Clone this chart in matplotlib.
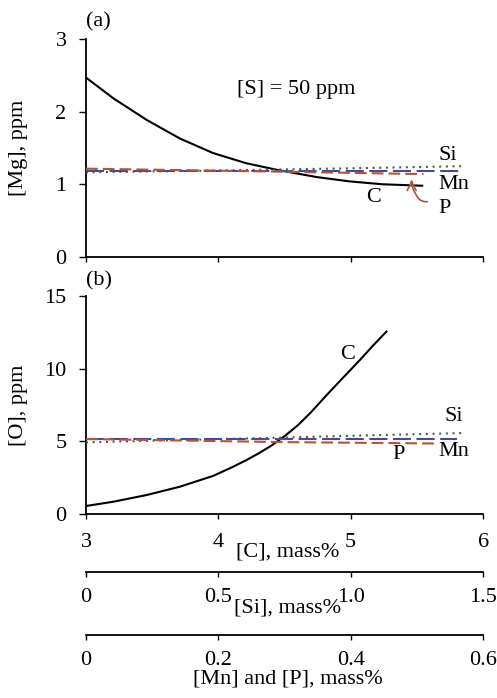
import matplotlib
matplotlib.use('Agg')
import matplotlib.pyplot as plt

plt.rcParams['font.family'] = ['Liberation Serif', 'DejaVu Serif']
plt.rcParams['font.size'] = 16
plt.rcParams['lines.scale_dashes'] = False

# panel (a): [Mg], ppm
c_a = [3.0, 3.21, 3.46, 3.71, 3.96, 4.21, 4.44, 4.74, 4.99, 5.24, 5.54]
mg_c = [2.47, 2.18, 1.885, 1.63, 1.43, 1.29, 1.2, 1.10, 1.04, 1.0, 0.98]
si_a = [0.0, 0.5, 1.0, 1.43]
mg_si = [1.165, 1.19, 1.22, 1.25]
mn_a = [0.0, 0.57]
mg_mn = [1.18, 1.18]
p_a = [0.0, 0.25, 0.51]
mg_p = [1.215, 1.18, 1.14]

# panel (b): [O], ppm
c_b = [3.0, 3.21, 3.46, 3.71, 3.96, 4.1, 4.21, 4.3, 4.4, 4.5, 4.6, 4.7,
       4.82, 4.95, 5.07, 5.17, 5.27]
o_c = [0.55, 0.85, 1.31, 1.88, 2.62, 3.2, 3.7, 4.15, 4.7, 5.35, 6.1, 7.0,
       8.2, 9.45, 10.6, 11.6, 12.55]
si_b = [0.0, 0.5, 0.73, 1.0, 1.43]
o_si = [4.93, 5.15, 5.25, 5.38, 5.57]
mn_b = [0.0, 0.56]
o_mn = [5.16, 5.16]
p_b = [0.0, 0.29, 0.53]
o_p = [5.16, 4.95, 4.85]

c_ticks = [3, 4, 5, 6]
si_ticks = [0, 0.5, 1.0, 1.5]
si_labels = ['0', '0.5', '1.0', '1.5']
mn_ticks = [0, 0.2, 0.4, 0.6]
mn_labels = ['0', '0.2', '0.4', '0.6']

col_si = '#3d5a4c'
col_mn = '#4a4a8c'
col_p = '#b0553c'


def style(ax):
    for s in ['top', 'right']:
        ax.spines[s].set_visible(False)
    for s in ['left', 'bottom']:
        ax.spines[s].set_linewidth(1.3)
    ax.tick_params(axis='y', direction='out', length=5, width=1.0, pad=9)
    ax.tick_params(axis='x', direction='out', length=3.5, width=1.0)
    ax.yaxis.set_label_coords(-0.146, 0.5)


def hidden_twin(ax, lim):
    t = ax.twiny()
    t.set_xlim(*lim)
    t.axis('off')
    return t


fig = plt.figure(figsize=(4.97, 6.98), dpi=100)
ax_a = fig.add_axes([0.173, 0.632, 0.799, 0.312])
ax_b = fig.add_axes([0.173, 0.2636, 0.799, 0.3124])

# ---- (a)
ax_a.set_xlim(3, 6)
ax_a.set_ylim(0, 3)
ax_a.set_xticks(c_ticks)
ax_a.set_xticklabels([])
ax_a.set_yticks([0, 1, 2, 3])
ax_a.set_ylabel('[Mg], ppm')
style(ax_a)
sa = hidden_twin(ax_a, (0, 1.5))
ma = hidden_twin(ax_a, (0, 0.6))
sa.plot(si_a, mg_si, color=col_si, lw=1.5, dashes=(1.4, 3.4))
ma.plot(mn_a, mg_mn, color=col_mn, lw=1.5, dashes=(13, 4))
ma.plot(p_a, mg_p, color=col_p, lw=1.5, dashes=(8.5, 3.6))
ax_a.plot(c_a, mg_c, color='black', lw=1.5)
ax_a.text(0.0, 1.078, '(a)', transform=ax_a.transAxes, ha='left', va='center')
ax_a.text(4.59, 2.3, '[S] = 50 ppm', ha='center', va='center')
ax_a.text(5.66, 1.4, 'Si', ha='left', va='center')
ax_a.text(5.66, 1.0, 'Mn', ha='left', va='center')
ax_a.text(5.17, 0.82, 'C', ha='center', va='center')
ax_a.text(5.71, 0.67, 'P', ha='center', va='center')
ax_a.annotate('', xy=(5.46, 1.1), xytext=(5.6, 0.76),
              arrowprops=dict(arrowstyle='->', color=col_p, lw=1.2,
                              connectionstyle='arc,angleA=180,angleB=-90,armA=10,armB=10,rad=6'))

# ---- (b)
ax_b.set_xlim(3, 6)
ax_b.set_ylim(0, 15)
ax_b.set_xticks(c_ticks)
ax_b.set_xticklabels([])
ax_b.set_yticks([0, 5, 10, 15])
ax_b.set_ylabel('[O], ppm')
style(ax_b)
sb = hidden_twin(ax_b, (0, 1.5))
mb = hidden_twin(ax_b, (0, 0.6))
sb.plot(si_b, o_si, color=col_si, lw=1.5, dashes=(1.4, 3.4))
mb.plot(mn_b, o_mn, color=col_mn, lw=1.5, dashes=(13, 4))
mb.plot(p_b, o_p, color=col_p, lw=1.5, dashes=(8.5, 3.6))
ax_b.plot(c_b, o_c, color='black', lw=1.5)
ax_b.text(0.0, 1.069, '(b)', transform=ax_b.transAxes, ha='left', va='center')
ax_b.text(5.71, 6.74, 'Si', ha='left', va='center')
ax_b.text(5.66, 4.27, 'Mn', ha='left', va='center')
ax_b.text(5.36, 4.06, 'P', ha='center', va='center')
ax_b.text(4.975, 10.98, 'C', ha='center', va='center')

# tick labels and title for [C] below panel (b)
for x in c_ticks:
    ax_b.text(x, -0.13, str(x), transform=ax_b.get_xaxis_transform(),
              ha='center', va='center')
ax_b.text(0.508, -0.175, '[C], mass%', transform=ax_b.transAxes,
          ha='center', va='center')


def extra_axis(ax, pos, lim, ticks, labels, title, tpos):
    t = ax.twiny()
    t.set_xlim(*lim)
    for s in ['top', 'right', 'left']:
        t.spines[s].set_visible(False)
    t.spines['bottom'].set_position(('axes', pos))
    t.spines['bottom'].set_linewidth(1.3)
    t.patch.set_visible(False)
    t.xaxis.set_ticks_position('bottom')
    t.set_xticks(ticks)
    t.set_xticklabels([])
    t.tick_params(axis='x', direction='out', length=3.5, width=1.0)
    for v, lab in zip(ticks, labels):
        t.text(v, pos - 0.115, lab, transform=t.get_xaxis_transform(),
               ha='center', va='center')
    t.text(0.508, pos + tpos, title, transform=t.transAxes,
           ha='center', va='center')
    return t


extra_axis(ax_b, -0.266, (0, 1.5), si_ticks, si_labels, '[Si], mass%', -0.165)
extra_axis(ax_b, -0.555, (0, 0.6), mn_ticks, mn_labels, '[Mn] and [P], mass%', -0.2)

fig.savefig('out.png', dpi=100)
